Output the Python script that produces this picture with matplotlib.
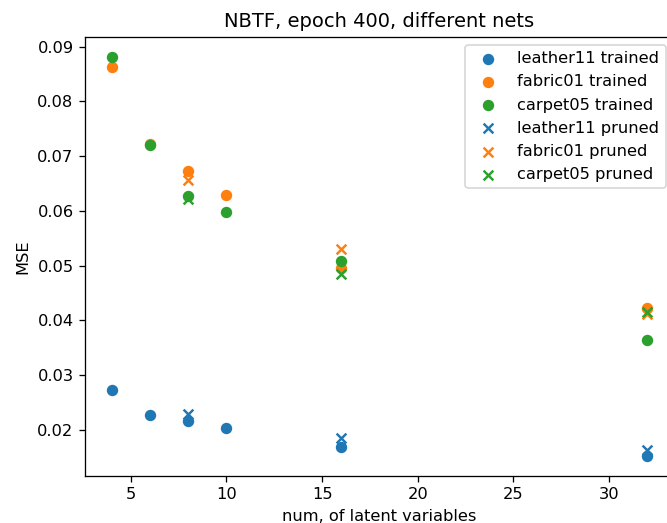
import matplotlib
matplotlib.use("Agg")
import matplotlib.pyplot as plt

# latent variable counts
n_trained = [4, 6, 8, 10, 16, 32]
n_pruned = [8, 16, 32]

# MSE of trained nets
leather11_trained = [0.0272, 0.0226, 0.0215, 0.0202, 0.0168, 0.0152]
fabric01_trained = [0.0864, 0.0723, 0.0672, 0.0629, 0.0496, 0.0423]
carpet05_trained = [0.0882, 0.0721, 0.0628, 0.0598, 0.0508, 0.0364]

# MSE of pruned nets
leather11_pruned = [0.0229, 0.0185, 0.0162]
fabric01_pruned = [0.0656, 0.0530, 0.0412]
carpet05_pruned = [0.0621, 0.0485, 0.0415]

dpi = 117
fig = plt.figure(figsize=(667 / dpi, 523 / dpi), dpi=dpi)
ax = fig.add_axes([0.1274, 0.0904, 0.883, 0.8394])

ax.scatter(n_trained, leather11_trained, color='C0', label='leather11 trained')
ax.scatter(n_trained, fabric01_trained, color='C1', label='fabric01 trained')
ax.scatter(n_trained, carpet05_trained, color='C2', label='carpet05 trained')
ax.scatter(n_pruned, leather11_pruned, color='C0', marker='x', label='leather11 pruned')
ax.scatter(n_pruned, fabric01_pruned, color='C1', marker='x', label='fabric01 pruned')
ax.scatter(n_pruned, carpet05_pruned, color='C2', marker='x', label='carpet05 pruned')

ax.set_title('NBTF, epoch 400, different nets')
ax.set_xlabel('num, of latent variables')
ax.set_ylabel('MSE')
ax.legend(loc='upper right')

fig.savefig('out.png', dpi=dpi)
